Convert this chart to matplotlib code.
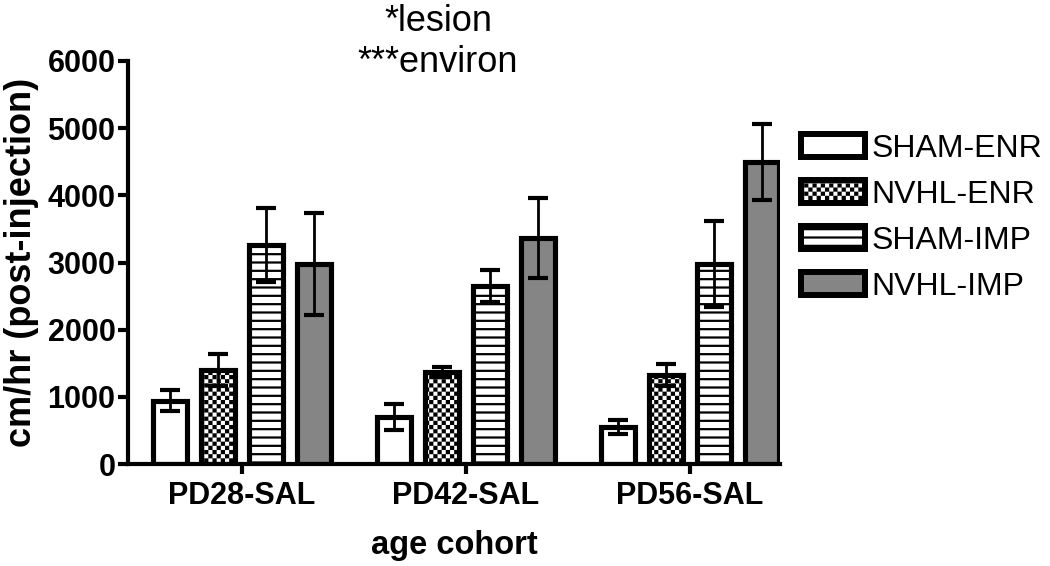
import numpy as np
import matplotlib
matplotlib.use("Agg")
import matplotlib.pyplot as plt
import matplotlib.hatch as mhatch
from matplotlib.path import Path

# ---------------- data ----------------
cohorts = ["PD28-SAL", "PD42-SAL", "PD56-SAL"]
groups = ["SHAM-ENR", "NVHL-ENR", "SHAM-IMP", "NVHL-IMP"]
sham_enr = [940, 700, 550]
nvhl_enr = [1400, 1370, 1325]
sham_imp = [3260, 2650, 2975]
nvhl_imp = [2975, 3365, 4495]
sham_enr_err = [155, 200, 110]
nvhl_enr_err = [240, 75, 170]
sham_imp_err = [550, 245, 640]
nvhl_imp_err = [760, 595, 565]
yticks = [0, 1000, 2000, 3000, 4000, 5000, 6000]
title_text = "*lesion\n***environ"
ylabel_text = "cm/hr (post-injection)"
xlabel_text = "age cohort"


# ---------------- custom checkerboard hatch (mapped to '*') ----------------
class CheckerHatch(mhatch.HatchPatternBase):
    def __init__(self, hatch, density):
        self.n = int(hatch.count('*') * density)
        if self.n % 2:
            self.n += 1
        self.num_vertices = 5 * (self.n * self.n // 2) if self.n else 0

    def set_vertices_and_codes(self, vertices, codes):
        s = 1.0 / self.n
        k = 0
        for i in range(self.n):
            for j in range(self.n):
                if (i + j) % 2 == 0:
                    x0, y0 = i * s, j * s
                    vertices[k:k + 5] = [(x0, y0), (x0 + s, y0), (x0 + s, y0 + s),
                                         (x0, y0 + s), (x0, y0)]
                    codes[k] = Path.MOVETO
                    codes[k + 1:k + 4] = Path.LINETO
                    codes[k + 4] = Path.CLOSEPOLY
                    k += 5


mhatch._hatch_types = [h for h in mhatch._hatch_types if h is not mhatch.Stars] + [CheckerHatch]

plt.rcParams['font.family'] = ['Liberation Sans', 'DejaVu Sans']
plt.rcParams['hatch.color'] = 'black'

fig = plt.figure(figsize=(10.5, 5.66), dpi=100)
ax = fig.add_axes([128 / 1050, 1 - 464 / 566, (780 - 128) / 1050, (464 - 61) / 566])

x = np.arange(len(cohorts))
pitch = 48 / 224
width = 0.15
series = [
    (sham_enr, sham_enr_err, dict(facecolor='white', hatch=None), 1.0),
    (nvhl_enr, nvhl_enr_err, dict(facecolor='white', hatch='****'), 0.05),
    (sham_imp, sham_imp_err, dict(facecolor='white', hatch='--'), 1.6),
    (nvhl_imp, nvhl_imp_err, dict(facecolor='#858585', hatch=None), 1.0),
]

handles = []
for k, (vals, errs, style, hlw) in enumerate(series):
    plt.rcParams['hatch.linewidth'] = hlw
    pos = x + (k - 1.5) * pitch
    bars = ax.bar(pos, vals, width, edgecolor='black', linewidth=3.7,
                  label=groups[k], zorder=2, **style)
    for p in bars:
        if hasattr(p, 'set_hatch_linewidth'):
            p.set_hatch_linewidth(hlw)
    handles.append((bars, hlw))
    ax.errorbar(pos, vals, yerr=errs, fmt='none', ecolor='black', elinewidth=2.0,
                capsize=7, capthick=3, zorder=3)

ax.set_xlim(-0.509, 2.402)
ax.set_ylim(0, 6000)
ax.set_yticks(yticks)
ax.set_xticks(x)
ax.set_xticklabels(cohorts)
for s in ['top', 'right']:
    ax.spines[s].set_visible(False)
for s in ['left', 'bottom']:
    ax.spines[s].set_linewidth(3)
ax.tick_params(axis='both', direction='out', length=7, width=3, labelsize=22)
ax.tick_params(axis='y', pad=2)
ax.tick_params(axis='x', pad=5)
for lab in ax.get_xticklabels() + ax.get_yticklabels():
    lab.set_fontweight('bold')

ax.set_ylabel(ylabel_text, fontsize=26, fontweight='bold', labelpad=6)
ax.set_xlabel(xlabel_text, fontsize=23.5, fontweight='bold', labelpad=14)

fig.text(438 / 1050, 1 - 42 / 566, title_text, ha='center', va='center',
         fontsize=26, linespacing=1.22)

leg = ax.legend(loc='upper left', bbox_to_anchor=(801 / 1050, 1 - 134 / 566),
                bbox_transform=fig.transFigure, frameon=False, fontsize=23,
                handlelength=2.0, handleheight=0.72, handletextpad=0.2,
                labelspacing=0.5, borderpad=0, borderaxespad=0)
for patch, (bars, hlw) in zip(leg.get_patches(), handles):
    patch.set_linewidth(4.3)
    if hasattr(patch, 'set_hatch_linewidth'):
        patch.set_hatch_linewidth(hlw)

fig.savefig('out.png', dpi=100)
